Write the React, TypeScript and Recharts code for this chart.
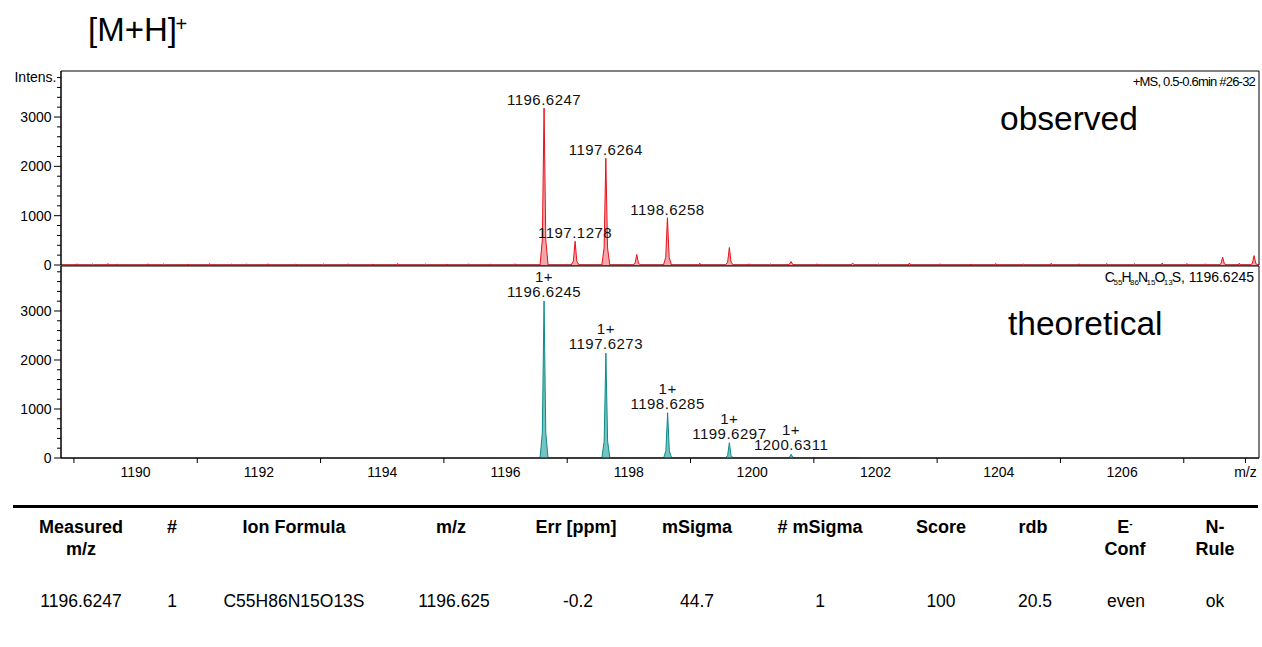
import { ComposedChart, Area, Scatter, XAxis, YAxis, ReferenceArea } from "recharts";

// x range of both panels (m/z)
const MZ_MIN = 1188.79;
const MZ_MAX = 1208.22;

// observed spectrum
const obsPeakMz = [1196.6247, 1197.1278, 1197.6264, 1198.128, 1198.6258, 1199.63, 1200.63, 1201.63, 1207.63, 1208.14];
const obsPeakInt = [3180, 480, 2165, 215, 960, 355, 70, 35, 160, 190];
const obsLabelMz = [1196.6247, 1197.1278, 1197.6264, 1198.6258];
const obsLabelInt = [3180, 480, 2165, 960];
const obsNoiseMz = [
  1189.05, 1189.3, 1189.55, 1189.7, 1190.2, 1190.45, 1190.85, 1191.2, 1191.55, 1191.8, 1192.15, 1192.6, 1193.05,
  1193.45, 1193.85, 1194.25, 1194.7, 1195.05, 1195.4, 1195.75, 1196.15, 1199.15, 1199.95, 1200.3, 1201.05, 1202.05,
  1202.55, 1203.05, 1203.55, 1203.95, 1204.4, 1204.85, 1205.3, 1205.75, 1206.2, 1206.65, 1207.05, 1207.35, 1207.9,
];
const obsNoiseInt = [
  25, 20, 30, 20, 25, 20, 20, 30, 20, 25, 25, 20, 20, 25, 20, 30, 20, 20, 25, 20, 25, 35, 25, 20, 25, 20, 40, 25, 20,
  30, 25, 35, 25, 30, 30, 40, 30, 25, 35,
];

// theoretical isotope pattern
const theoPeakMz = [1196.6245, 1197.6273, 1198.6285, 1199.6297, 1200.6311];
const theoPeakInt = [3205, 2140, 925, 312, 78];
const theoCharge = ["1+", "1+", "1+", "1+", "1+"];
const theoStart = 1196.52;
const theoEnd = 1201.72;

// axes
const yTicks = [0, 200, 400, 600, 800, 1000, 1200, 1400, 1600, 1800, 2000, 2200, 2400, 2600, 2800, 3000, 3200, 3400, 3600, 3800];
const yLabels = ["0", "1000", "2000", "3000"];
const yLabelValues = [0, 1000, 2000, 3000];
const xTicks = [1189, 1190, 1191, 1192, 1193, 1194, 1195, 1196, 1197, 1198, 1199, 1200, 1201, 1202, 1203, 1204, 1205, 1206, 1207, 1208];
const xLabelValues = [1190, 1192, 1194, 1196, 1198, 1200, 1202, 1204, 1206, 1208];
const xLabels = ["1190", "1192", "1194", "1196", "1198", "1200", "1202", "1204", "1206", "m/z"];

// result table
const tableHead = [["Measured", "m/z"], ["#"], ["Ion Formula"], ["m/z"], ["Err [ppm]"], ["mSigma"], ["# mSigma"], ["Score"], ["rdb"], ["E-", "Conf"], ["N-", "Rule"]];
const tableRow = ["1196.6247", "1", "C55H86N15O13S", "1196.625", "-0.2", "44.7", "1", "100", "20.5", "even", "ok"];
const colX = [81, 172, 294, 451, 576, 697, 820, 941, 1033, 1125, 1215];
const rowX = [81, 172, 294, 454, 578, 697, 820, 941, 1035, 1126, 1215];

const PEAK_SHAPE = [[-0.065, 0], [-0.028, 0.16], [0, 1], [0.028, 0.16], [0.065, 0]];
const NOISE_SHAPE = [[-0.018, 0], [0, 1], [0.018, 0]];

function buildProfile(groups: { mz: number[]; int: number[]; shape: number[][] }[], start: number, end: number) {
  const pts: { mz: number; v: number }[] = [{ mz: start, v: 0 }, { mz: end, v: 0 }];
  groups.forEach((g) =>
    g.mz.forEach((m, i) => g.shape.forEach(([dx, f]) => pts.push({ mz: m + dx, v: g.int[i] * f })))
  );
  return pts.sort((a, b) => a.mz - b.mz);
}

const obsData = buildProfile(
  [
    { mz: obsPeakMz, int: obsPeakInt, shape: PEAK_SHAPE },
    { mz: obsNoiseMz, int: obsNoiseInt, shape: NOISE_SHAPE },
  ],
  MZ_MIN,
  MZ_MAX
);
const theoData = buildProfile([{ mz: theoPeakMz, int: theoPeakInt, shape: PEAK_SHAPE }], theoStart, theoEnd);

const obsLabels = obsLabelMz.map((m, i) => ({ mz: m, v: obsLabelInt[i], label: m.toFixed(4) }));
const theoLabels = theoPeakMz.map((m, i) => ({ mz: m, v: theoPeakInt[i], label: m.toFixed(4), charge: theoCharge[i] }));

const FONT = "'Liberation Sans', Arial, sans-serif";

const makeYTick = (topLabel: string | null) => (props: any) => {
  const { x, y, payload } = props;
  const idx = yLabelValues.indexOf(payload.value);
  const text = idx >= 0 ? yLabels[idx] : payload.value === 3800 ? topLabel : null;
  return (
    <g>
      <line x1={x - (idx >= 0 ? 7 : 4)} x2={x} y1={y} y2={y} stroke="#000" />
      {text && (
        <text x={x - (idx >= 0 ? 9.5 : 4.5)} y={y} dy="0.35em" textAnchor="end" fontSize={14} fill="#000">
          {text}
        </text>
      )}
    </g>
  );
};

const XTick = (props: any) => {
  const { x, y, payload } = props;
  const idx = xLabelValues.indexOf(payload.value);
  const last = payload.value === 1208;
  return (
    <g>
      {(idx < 0 || last) && <line x1={x} x2={x} y1={y} y2={y + 5} stroke="#000" />}
      {idx >= 0 && (
        <text x={x} y={y + 19} textAnchor="middle" fontSize={14} fill="#000">
          {xLabels[idx]}
        </text>
      )}
    </g>
  );
};

const ObsLabel = (p: any) => (
  <text x={p.cx} y={p.cy - 3} textAnchor="middle" fontSize={15} letterSpacing={0.5} fill="#111">
    {p.payload.label}
  </text>
);

const TheoLabel = (p: any) => (
  <g>
    <text x={p.cx} y={p.cy - 19} textAnchor="middle" fontSize={15} letterSpacing={0.5} fill="#111">
      {p.payload.charge}
    </text>
    <text x={p.cx} y={p.cy - 4} textAnchor="middle" fontSize={15} letterSpacing={0.5} fill="#111">
      {p.payload.label}
    </text>
  </g>
);

const TOP_MAX = 3933;
const BOT_MAX = 3918;

export default function App() {
  return (
    <div style={{ position: "absolute", left: 0, top: 0, width: 1262, height: 647, background: "#fff", fontFamily: FONT, color: "#000" }}>
      <div style={{ position: "absolute", left: 0, top: 0 }}>
        <ComposedChart width={1262} height={282} data={obsData} margin={{ top: 71, right: 3, bottom: 17, left: 0 }}>
          <XAxis dataKey="mz" type="number" domain={[MZ_MIN, MZ_MAX]} allowDataOverflow height={0} tick={false} tickLine={false} axisLine={{ stroke: "#000" }} />
          <YAxis type="number" domain={[0, TOP_MAX]} allowDataOverflow ticks={yTicks} interval={0} width={61} tickSize={0} tickMargin={0} tick={makeYTick("Intens.")} axisLine={{ stroke: "#000" }} />
          <ReferenceArea x1={MZ_MIN} x2={MZ_MAX} y1={0} y2={TOP_MAX} fill="none" stroke="#000" ifOverflow="visible" />
          <Area type="linear" dataKey="v" stroke="#e8101a" strokeWidth={1} fill="#f4a6a8" fillOpacity={1} dot={false} activeDot={false} isAnimationActive={false} />
          <Scatter data={obsLabels} dataKey="v" shape={ObsLabel} isAnimationActive={false} />
        </ComposedChart>
      </div>
      <div style={{ position: "absolute", left: 0, top: 0 }}>
        <ComposedChart width={1262} height={494} data={theoData} margin={{ top: 266, right: 3, bottom: 0, left: 0 }}>
          <XAxis dataKey="mz" type="number" domain={[MZ_MIN, MZ_MAX]} allowDataOverflow ticks={xTicks} interval={0} height={36} tickSize={0} tickMargin={0} tick={XTick} axisLine={{ stroke: "#000" }} />
          <YAxis type="number" domain={[0, BOT_MAX]} allowDataOverflow ticks={yTicks} interval={0} width={61} tickSize={0} tickMargin={0} tick={makeYTick(null)} axisLine={{ stroke: "#000" }} />
          <ReferenceArea x1={MZ_MIN} x2={MZ_MAX} y1={0} y2={BOT_MAX} fill="none" stroke="#000" ifOverflow="visible" />
          <Area type="linear" dataKey="v" stroke="#0b8a8a" strokeWidth={1} fill="#79c2c2" fillOpacity={1} dot={false} activeDot={false} isAnimationActive={false} />
          <Scatter data={theoLabels} dataKey="v" shape={TheoLabel} isAnimationActive={false} />
        </ComposedChart>
      </div>

      <svg width={1262} height={647} style={{ position: "absolute", left: 0, top: 0, pointerEvents: "none" }}>
        <text x={88} y={41} fontSize={33} fill="#000">[M+H]</text>
        <text x={175.5} y={30.5} fontSize={20} fill="#000">+</text>
        <text x={1255} y={86} fontSize={13} textAnchor="end" letterSpacing={-0.8} fill="#000">
          +MS, 0.5-0.6min #26-32
        </text>
        <text x={1000} y={130} fontSize={33.5} fill="#000">observed</text>
        <text x={1254} y={282} fontSize={14} textAnchor="end" fill="#000">
          C<tspan fontSize={8} dx={-1.5} dy={3}>55</tspan>
          <tspan dx={-1} dy={-3}>H</tspan>
          <tspan fontSize={8} dx={-1.5} dy={3}>86</tspan>
          <tspan dx={-1} dy={-3}>N</tspan>
          <tspan fontSize={8} dx={-1.5} dy={3}>15</tspan>
          <tspan dx={-1} dy={-3}>O</tspan>
          <tspan fontSize={8} dx={-1.5} dy={3}>13</tspan>
          <tspan dx={-1} dy={-3}>S, 1196.6245</tspan>
        </text>
        <text x={1008} y={335} fontSize={33.5} fill="#000">theoretical</text>
      </svg>

      <div style={{ position: "absolute", left: 13, top: 505, width: 1245, height: 3, background: "#000" }} />
      {tableHead.map((lines, i) => (
        <div
          key={"h" + i}
          style={{ position: "absolute", left: colX[i] - 80, top: 516, width: 160, textAlign: "center", fontWeight: "bold", fontSize: 18, lineHeight: "22px" }}
        >
          {lines.map((t, j) => (
            <div key={j} style={{ height: 22 }}>
              {t === "E-" ? (
                <span>
                  E<span style={{ fontSize: 10, position: "relative", top: -6 }}>-</span>
                </span>
              ) : (
                t
              )}
            </div>
          ))}
        </div>
      ))}
      {tableRow.map((t, i) => (
        <div
          key={"r" + i}
          style={{ position: "absolute", left: rowX[i] - 90, top: 590, width: 180, textAlign: "center", fontSize: 17.5, lineHeight: "22px" }}
        >
          {t}
        </div>
      ))}
    </div>
  );
}
